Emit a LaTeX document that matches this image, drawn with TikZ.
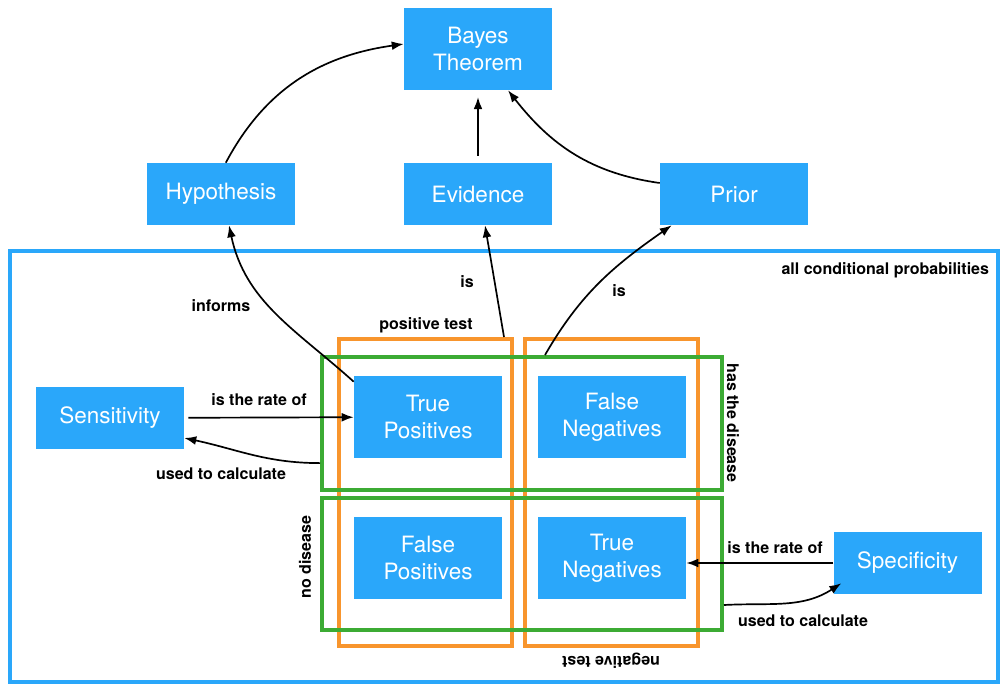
\documentclass[tikz,border=0pt]{standalone}
\usepackage{fontspec}
\setmainfont{TeX Gyre Heros}
\usetikzlibrary{arrows.meta}
\definecolor{boxblue}{RGB}{42,167,250}
\definecolor{testorange}{RGB}{248,149,45}
\definecolor{diseasegreen}{RGB}{60,171,52}
\begin{document}
\begin{tikzpicture}[
    concept/.style={fill=boxblue, text=white, minimum width=3.7cm, minimum height=1.55cm, align=center, inner sep=0pt, font=\fontsize{16}{19.2}\selectfont},
    cell/.style={concept, minimum height=2.05cm},
    testframe/.style={draw=testorange, line width=0.1cm, inner sep=0pt, minimum width=4.325cm, minimum height=7.675cm},
    diseaseframe/.style={draw=diseasegreen, line width=0.1cm, inner sep=0pt, minimum width=10cm, minimum height=3.3cm},
    lbl/.style={font=\fontsize{11.4}{13}\selectfont\bfseries},
    link/.style={-{Latex[length=0.3cm,width=0.22cm]}, line width=1.2pt},
]
            \useasboundingbox (0,0) rectangle (25.2,-17.325);

            % Outer frame
            \node[draw=boxblue, line width=0.1cm, inner sep=0pt, minimum width=24.7cm, minimum height=10.775cm] (allprob) at (12.6,-11.6625) {};
            \node[lbl, anchor=east] (allprobtext) at (24.85,-6.75) {all conditional probabilities};

            % Test frames
            \node[testframe] (postest) at (10.6375,-12.3125) {};
            \node[testframe] (negtest) at (15.2875,-12.3125) {};
            \node[lbl] (postesttext) at (10.65,-8.125) {positive test};
            \node[lbl, rotate=180] (negtesttext) at (15.275,-16.525) {negative test};

            % Disease frames
            \node[diseaseframe, minimum height=3.325cm] (hasdis) at (13.05,-10.5875) {};
            \node[diseaseframe] (nodis) at (13.05,-14.1) {};
            \node[lbl, rotate=-90] (hasdistext) at (18.325,-10.575) {has the disease};
            \node[lbl, rotate=90] (nodistext) at (7.625,-13.925) {no disease};

            % Top row
            \node[cell] (bayes) at (11.95,-1.225) {Bayes\\Theorem};

            % Second row
            \node[concept] (hyp) at (5.525,-4.85) {Hypothesis};
            \node[concept] (evid) at (11.95,-4.85) {Evidence};
            \node[concept] (prior) at (18.35,-4.85) {Prior};
            \draw[link] ([xshift=0.12cm]hyp.north) to[out=62,in=188] ([yshift=0.125cm]bayes.west);
            \draw[link, shorten <=0.17cm, shorten >=0.17cm] (evid) -- (bayes);
            \draw[link] ([yshift=0.275cm]prior.west) to[out=172,in=-52] ([xshift=0.75cm]bayes.south);

            % Cells
            \node[cell] (tp) at (10.7,-10.425) {True\\Positives};
            \node[cell] (fn) at (15.3,-10.425) {False\\Negatives};
            \node[cell] (fp) at (10.7,-13.95) {False\\Positives};
            \node[cell] (tn) at (15.3,-13.95) {True\\Negatives};

            % Rates
            \node[concept] (sens) at (2.75,-10.45) {Sensitivity};
            \node[concept] (spec) at (22.69,-14.075) {Specificity};

            % Links from the cells
            \draw[link] ([yshift=-0.15cm]tp.north west) to[out=138,in=-78] ([xshift=0.2cm]hyp.south);
            \node[lbl] (informs) at (5.525,-7.65) {informs};
            \draw[link] ([xshift=-0.25cm]postest.north east) -- ([xshift=0.175cm]evid.south);
            \node[lbl] (isevid) at (11.675,-7.05) {is};
            \draw[link] ([xshift=5.625cm]hasdis.north west) to[out=60,in=215] ([xshift=0.3cm]prior.south west);
            \node[lbl] (isprior) at (15.475,-7.275) {is};

            % Sensitivity
            \draw[link, shorten <=0.1cm] (sens) -- (tp);
            \node[lbl] (rateofsens) at (6.475,-10.0) {is the rate of};
            \draw[link] ([yshift=-0.99cm]hasdis.west) to[out=180,in=-12] ([yshift=-0.5cm]sens.east);
            \node[lbl] (calcsens) at (5.525,-11.85) {used to calculate};

            % Specificity
            \draw[link] (spec.west) -- (spec.west -| tn.east);
            \node[lbl] (rateofspec) at (19.375,-13.7) {is the rate of};
            \draw[link] ([yshift=-1.025cm]nodis.east) to[out=3,in=213] ([shift={(0.2cm,0.275cm)}]spec.south west);
            \node[lbl] (calcspec) at (20.075,-15.525) {used to calculate};
        \end{tikzpicture}
\end{document}
